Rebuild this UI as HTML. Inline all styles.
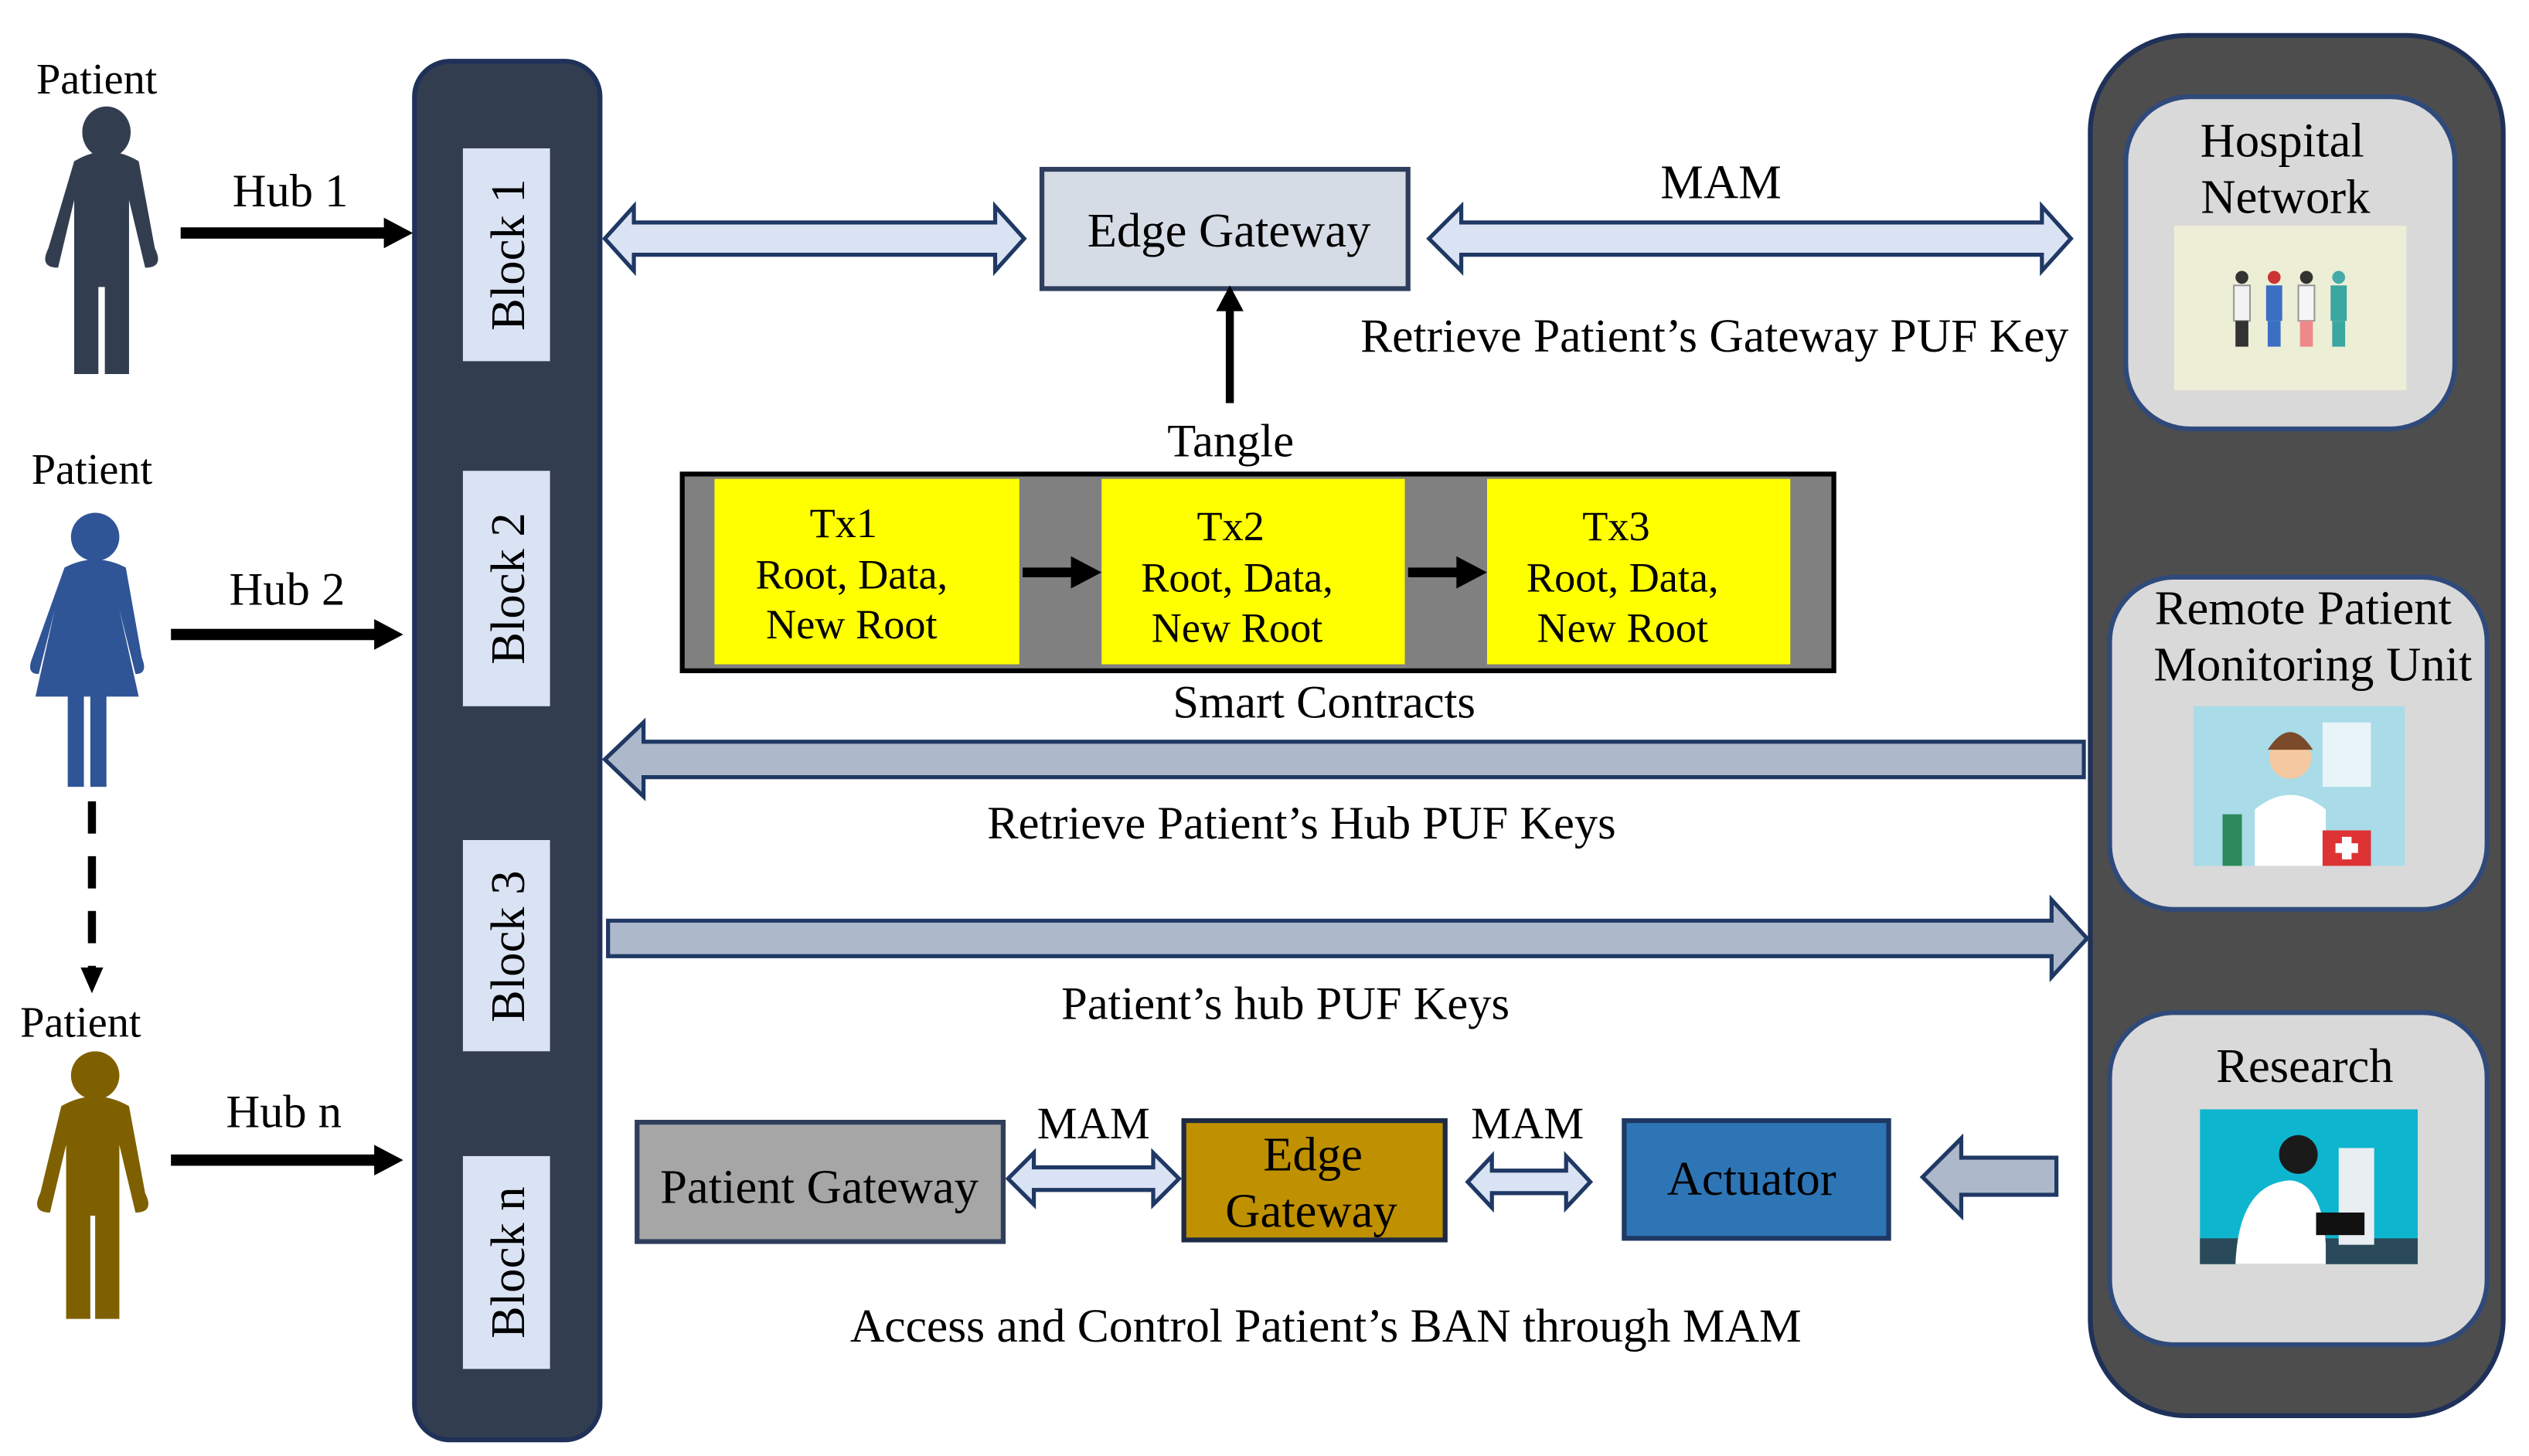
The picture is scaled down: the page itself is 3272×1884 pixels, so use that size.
<!DOCTYPE html>
<html><head><meta charset="utf-8"><style>
html,body{margin:0;padding:0;background:#fff;}
svg{display:block;}
text{font-family:"Liberation Serif",serif;fill:#000;}
</style></head><body>
<svg width="3272" height="1884" viewBox="0 0 1568 903" preserveAspectRatio="none" xmlns="http://www.w3.org/2000/svg">
<rect x="257" y="38" width="115" height="855" rx="22" fill="#323e50" stroke="#1f3158" stroke-width="3"/>
<rect x="287" y="92" width="54" height="132" fill="#dae3f3"/>
<rect x="287" y="292" width="54" height="146" fill="#dae3f3"/>
<rect x="287" y="521" width="54" height="131" fill="#dae3f3"/>
<rect x="287" y="717" width="54" height="132" fill="#dae3f3"/>
<g font-size="30">
<text transform="translate(325,158) rotate(-90)" text-anchor="middle">Block 1</text>
<text transform="translate(325,365) rotate(-90)" text-anchor="middle">Block  2</text>
<text transform="translate(325,587) rotate(-90)" text-anchor="middle">Block 3</text>
<text transform="translate(325,783) rotate(-90)" text-anchor="middle">Block n</text>
</g>
<rect x="1296" y="22" width="256" height="856" rx="60" fill="#4d4d4d" stroke="#1f3158" stroke-width="3"/>
<rect x="1318" y="60" width="204" height="206" rx="40" fill="#d9d9d9" stroke="#2f4a7a" stroke-width="3"/>
<rect x="1308" y="358" width="234" height="206" rx="40" fill="#d9d9d9" stroke="#2f4a7a" stroke-width="3"/>
<rect x="1308" y="628" width="234" height="206" rx="40" fill="#d9d9d9" stroke="#2f4a7a" stroke-width="3"/>
<g font-size="30" text-anchor="middle">
<text x="1415" y="97">Hospital</text>
<text x="1417" y="132">Network</text>
<text x="1428" y="387">Remote Patient</text>
<text x="1434" y="422">Monitoring Unit</text>
<text x="1429" y="671">Research</text>
</g>
<rect x="1348" y="140" width="144" height="102" fill="#eceed6"/>
<g>
<circle cx="1390" cy="172" r="4" fill="#333"/><rect x="1385" y="177" width="10" height="22" fill="#f2f2f2" stroke="#999"/><rect x="1386" y="199" width="8" height="16" fill="#333"/>
<circle cx="1410" cy="172" r="4" fill="#c33"/><rect x="1405" y="177" width="10" height="22" fill="#3a6fc4"/><rect x="1406" y="199" width="8" height="16" fill="#3a6fc4"/>
<circle cx="1430" cy="172" r="4" fill="#333"/><rect x="1425" y="177" width="10" height="22" fill="#f5f5f5" stroke="#999"/><rect x="1426" y="199" width="8" height="16" fill="#e88"/>
<circle cx="1450" cy="172" r="4" fill="#4aa"/><rect x="1445" y="177" width="10" height="22" fill="#3aa6a0"/><rect x="1446" y="199" width="8" height="16" fill="#3aa6a0"/>
</g>
<rect x="1360" y="438" width="131" height="99" fill="#a9dbe8"/>
<rect x="1440" y="448" width="30" height="40" fill="#e8f4f8"/>
<circle cx="1420" cy="470" r="13" fill="#f4c8a0"/><path d="M1406 465 q14 -22 28 0 z" fill="#7a4a2a"/>
<path d="M1398 537 v-35 q22 -18 44 0 v35 z" fill="#fff"/>
<rect x="1440" y="515" width="30" height="22" fill="#d33"/><rect x="1452" y="519" width="6" height="14" fill="#fff"/><rect x="1448" y="523" width="14" height="6" fill="#fff"/>
<rect x="1378" y="505" width="12" height="32" fill="#2e8a5a"/>
<rect x="1364" y="688" width="135" height="96" fill="#0eb5cf"/>
<rect x="1364" y="768" width="135" height="16" fill="#2a4a5a"/>
<path d="M1386 784 q2 -50 34 -52 q20 2 22 40 v12 z" fill="#fff"/>
<circle cx="1425" cy="716" r="12" fill="#1a1a1a"/>
<rect x="1450" y="712" width="22" height="60" fill="#e8eef2"/><rect x="1436" y="752" width="30" height="14" fill="#111"/>
<g font-size="27">
<text x="60" y="58" text-anchor="middle">Patient</text>
<text x="57" y="300" text-anchor="middle">Patient</text>
<text x="50" y="643" text-anchor="middle">Patient</text>
</g>
<g fill="#323e50">
<ellipse cx="66" cy="82" rx="15" ry="16"/>
<path d="M46 100 q20 -12 40 0 l10 54 q6 12 -6 12 l-10 -42 v108 h-15 v-54 h-4 v54 h-15 v-108 l-10 42 q-12 0 -6 -12 z"/>
</g>
<g fill="#2f5597">
<ellipse cx="59" cy="333" rx="15" ry="15"/>
<path d="M40 352 q19 -10 38 0 l10 56 q4 10 -4 10 l-10 -40 l12 54 h-20 v56 h-10 v-56 h-4 v56 h-10 v-56 h-20 l12 -54 l-10 40 q-8 0 -4 -10 z"/>
</g>
<g fill="#7f6000">
<ellipse cx="59" cy="667" rx="15" ry="15"/>
<path d="M38 686 q21 -12 42 0 l10 54 q6 12 -6 12 l-10 -42 v108 h-15 v-64 h-3 v64 h-15 v-108 l-10 42 q-12 0 -6 -12 z"/>
</g>
<line x1="57" y1="497" x2="57" y2="602" stroke="#000" stroke-width="5" stroke-dasharray="20,14"/>
<polygon points="50,600 64,600 57,616" fill="#000"/>
<g font-size="29" text-anchor="middle">
<text x="180" y="128">Hub 1</text>
<text x="178" y="375">Hub 2</text>
<text x="176" y="699">Hub n</text>
</g>
<g fill="#000">
<rect x="112" y="141" width="128" height="7"/><polygon points="238,135 256,144.5 238,154"/>
<rect x="106" y="390" width="128" height="7"/><polygon points="232,384 250,393.5 232,403"/>
<rect x="106" y="716" width="128" height="7"/><polygon points="232,710 250,719.5 232,729"/>
</g>
<rect x="646" y="105" width="227" height="74" fill="#d6dce5" stroke="#2f3e5c" stroke-width="3"/>
<text x="762" y="153" font-size="30" text-anchor="middle">Edge Gateway</text>
<polygon points="375,148 393,128 393,138 617,138 617,128 635,148 617,168 617,158 393,158 393,168" fill="#dae3f3" stroke="#1f3864" stroke-width="2.5"/>
<polygon points="886,148 906,128 906,138 1266,138 1266,128 1284,148 1266,168 1266,158 906,158 906,168" fill="#dae3f3" stroke="#1f3864" stroke-width="2.5"/>
<text x="1067" y="123" font-size="30" text-anchor="middle">MAM</text>
<text x="1063" y="218" font-size="29.5" text-anchor="middle">Retrieve Patient’s Gateway PUF Key</text>
<rect x="760" y="190" width="5" height="60" fill="#000"/>
<polygon points="754,193 762.5,177 771,193" fill="#000"/>
<text x="763" y="283" font-size="29" text-anchor="middle">Tangle</text>
<rect x="423" y="294" width="714" height="122" fill="#808080" stroke="#000" stroke-width="3"/>
<rect x="443" y="297" width="189" height="115" fill="#ffff00"/>
<rect x="683" y="297" width="188" height="115" fill="#ffff00"/>
<rect x="922" y="297" width="188" height="115" fill="#ffff00"/>
<g font-size="26" text-anchor="middle">
<text x="523" y="333">Tx1</text><text x="528" y="365">Root, Data,</text><text x="528" y="396">New Root</text>
<text x="763" y="335">Tx2</text><text x="767" y="367">Root, Data,</text><text x="767" y="398">New Root</text>
<text x="1002" y="335">Tx3</text><text x="1006" y="367">Root, Data,</text><text x="1006" y="398">New Root</text>
</g>
<g fill="#000">
<rect x="634" y="352" width="34" height="6"/><polygon points="664,345 683,355 664,365"/>
<rect x="873" y="352" width="34" height="6"/><polygon points="903,345 922,355 903,365"/>
</g>
<text x="821" y="445" font-size="29" text-anchor="middle">Smart Contracts</text>
<polygon points="375,471 399,448 399,460 1292,460 1292,482 399,482 399,494" fill="#adb9ca" stroke="#1f3864" stroke-width="2.5"/>
<text x="807" y="520" font-size="29" text-anchor="middle">Retrieve Patient’s Hub PUF Keys</text>
<polygon points="377,571 1272,571 1272,558 1294,582 1272,606 1272,593 377,593" fill="#adb9ca" stroke="#1f3864" stroke-width="2.5"/>
<text x="797" y="632" font-size="29" text-anchor="middle">Patient’s hub PUF Keys</text>
<rect x="395" y="696" width="227" height="74" fill="#a6a6a6" stroke="#2f3e5c" stroke-width="3"/>
<text x="508" y="746" font-size="30" text-anchor="middle">Patient Gateway</text>
<rect x="734" y="695" width="162" height="74" fill="#bf9000" stroke="#1f2a44" stroke-width="3"/>
<text x="814" y="726" font-size="30" text-anchor="middle">Edge</text>
<text x="813" y="761" font-size="30" text-anchor="middle">Gateway</text>
<rect x="1007" y="695" width="164" height="73" fill="#2e75b6" stroke="#1f3864" stroke-width="3"/>
<text x="1086" y="741" font-size="30" text-anchor="middle">Actuator</text>
<polygon points="625,731 641,715 641,724 715,724 715,715 731,731 715,747 715,738 641,738 641,747" fill="#dae3f3" stroke="#1f3864" stroke-width="2.5"/>
<polygon points="910,733 925,717 925,726 971,726 971,717 986,733 971,749 971,740 925,740 925,749" fill="#dae3f3" stroke="#1f3864" stroke-width="2.5"/>
<text x="678" y="706" font-size="28" text-anchor="middle">MAM</text>
<text x="947" y="706" font-size="28" text-anchor="middle">MAM</text>
<polygon points="1192,730 1216,706 1216,718 1275,718 1275,741 1216,741 1216,754" fill="#adb9ca" stroke="#1f3864" stroke-width="2.5"/>
<text x="822" y="832" font-size="29.5" text-anchor="middle">Access and Control Patient’s BAN through MAM</text>
</svg>
</body></html>
